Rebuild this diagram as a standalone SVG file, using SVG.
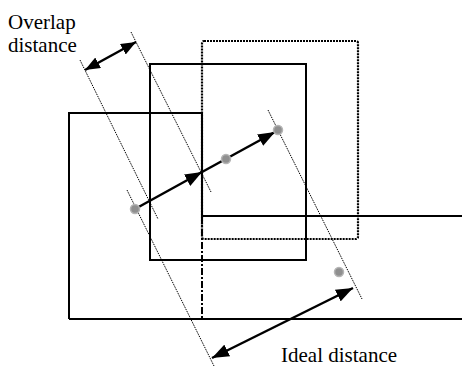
<svg xmlns="http://www.w3.org/2000/svg" width="462" height="367" viewBox="0 0 462 367">
<style>
.solid{fill:none;stroke:#000;stroke-width:2}
.dotrect{fill:none;stroke:#000;stroke-width:2.2;stroke-dasharray:2 1}
.dashdot{fill:none;stroke:#000;stroke-width:2;stroke-dasharray:7 2 2 2}
.guide{fill:none;stroke:#000;stroke-width:1;stroke-dasharray:1.5 1}
.arrow{fill:none;stroke:#000;stroke-width:2.5}
.dot{fill:#8f8f8f;stroke:#b5b5b5;stroke-width:1.5}
.lbl{font-family:"Liberation Serif","Times New Roman",serif;font-size:21px;fill:#000}
</style>
<defs>
<marker id="ah" viewBox="0 0 17 13" markerWidth="17" markerHeight="13" refX="17" refY="6.5" orient="auto-start-reverse" markerUnits="userSpaceOnUse">
<path d="M0,0 L17,6.5 L0,13 z" fill="#000"/>
</marker>
<marker id="ahs" viewBox="0 0 15 12" markerWidth="15" markerHeight="12" refX="15" refY="6" orient="auto-start-reverse" markerUnits="userSpaceOnUse">
<path d="M0,0 L15,6 L0,12 z" fill="#000"/>
</marker>
</defs>
<g id="base-block">
<path class="solid" d="M69,319 L69,113 L202,113 L202,216 L462,216"/>
<path class="solid" d="M69,319 L462,319"/>
<path class="dashdot" d="M202,216 L202,319"/>
</g>
<g id="middle-box">
<rect class="solid" x="150" y="64" width="156" height="196"/>
</g>
<g id="ideal-box">
<rect class="dotrect" x="202" y="41" width="156" height="198" rx="2"/>
</g>
<g id="guides">
<line class="guide" x1="80" y1="60" x2="158" y2="219"/>
<line class="guide" x1="131" y1="32" x2="211" y2="192"/>
<line class="guide" x1="127" y1="190" x2="214" y2="366"/>
<line class="guide" x1="268" y1="110" x2="362" y2="299"/>
</g>
<g id="connectors">
<line class="arrow" x1="135" y1="209" x2="202" y2="172" marker-end="url(#ah)"/>
<line class="arrow" x1="202" y1="172" x2="275" y2="132" marker-end="url(#ah)"/>
<line class="arrow" x1="85" y1="70" x2="136" y2="42" marker-start="url(#ahs)" marker-end="url(#ahs)"/>
<line class="arrow" x1="212" y1="358" x2="353" y2="288" marker-start="url(#ah)" marker-end="url(#ah)"/>
</g>
<g id="points">
<circle class="dot" cx="135" cy="209" r="4.5"/>
<circle class="dot" cx="226" cy="159" r="4.5"/>
<circle class="dot" cx="278" cy="130" r="4.5"/>
<circle class="dot" cx="339" cy="272" r="4.5"/>
</g>
<g id="labels">
<text class="lbl" x="8" y="29">Overlap</text>
<text class="lbl" x="8" y="52">distance</text>
<text class="lbl" x="281" y="362">Ideal distance</text>
</g>
</svg>
